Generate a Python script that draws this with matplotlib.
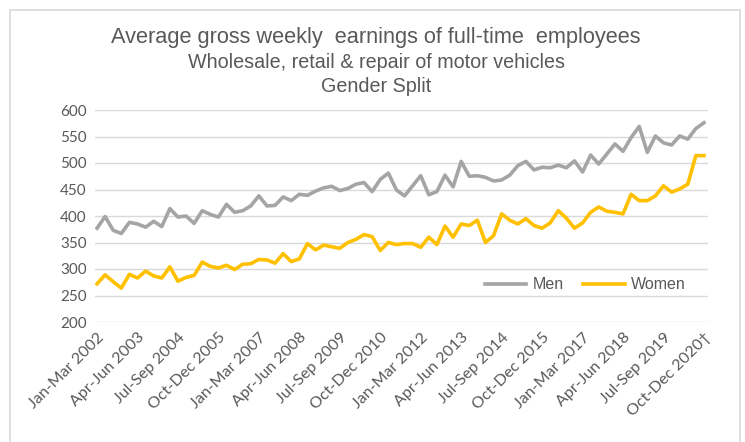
import matplotlib
matplotlib.use('Agg')
from matplotlib import pyplot as plt
from matplotlib.patches import Rectangle

# quarterly labels, Jan-Mar 2002 .. Oct-Dec 2020
quarters = ['Jan-Mar', 'Apr-Jun', 'Jul-Sep', 'Oct-Dec']
years = list(range(2002, 2021))
labels = [f'{q} {y}' for y in years for q in quarters]
labels[-1] = labels[-1] + '\u2020'

men = [377, 399, 373, 367, 388, 385, 379, 390, 380, 414,
       398, 400, 386, 410, 403, 398, 422, 407, 410, 419,
       438, 419, 420, 436, 429, 441, 439, 447, 453, 456,
       448, 452, 460, 463, 446, 469, 481, 449, 438, 457,
       476, 440, 446, 477, 455, 503, 475, 476, 473, 466,
       468, 477, 495, 503, 487, 492, 491, 496, 491, 504,
       483, 515, 498, 517, 536, 522, 548, 569, 520, 551,
       538, 534, 551, 545, 565, 576]
women = [272, 289, 276, 264, 290, 283, 296, 287, 283, 304,
         277, 284, 288, 313, 305, 302, 307, 299, 309, 310,
         318, 317, 311, 329, 314, 319, 348, 336, 345, 342,
         339, 350, 356, 365, 361, 335, 350, 346, 348, 348,
         341, 360, 346, 381, 360, 385, 382, 392, 350, 363,
         404, 392, 385, 395, 382, 377, 387, 410, 396, 377,
         387, 407, 417, 409, 407, 404, 441, 429, 429, 438,
         457, 445, 451, 460, 514, 514]

text_col = '#595959'
grid_col = '#D9D9D9'

fig = plt.figure(figsize=(7.45, 4.42), dpi=100)
fig.patches.append(Rectangle((10/745, -0.02), 730/745, (432/442) + 0.02,
                             transform=fig.transFigure, fill=False,
                             edgecolor=grid_col, linewidth=1.2))

ax = fig.add_axes([95/745, 1 - 322/442, 613/745, 212/442])
x = list(range(len(labels)))
ax.plot(x, men, color='#A5A5A5', linewidth=2.6, label='Men', solid_joinstyle='round')
ax.plot(x, women, color='#FFC000', linewidth=2.6, label='Women', solid_joinstyle='round')

ax.set_ylim(200, 600)
ax.set_yticks(range(200, 601, 50))
ax.set_xlim(-0.25, 75.5)
ax.set_xticks(x[::5])
ax.set_xticklabels(labels[::5], rotation=45, ha='right', rotation_mode='anchor',
                   fontsize=11.5, color=text_col, family=['Lato', 'DejaVu Sans'])
for t in ax.get_yticklabels():
    t.set_color(text_col)
    t.set_fontsize(11)
    t.set_family(['Lato', 'DejaVu Sans'])
ax.tick_params(length=0, pad=6)
ax.grid(axis='y', color=grid_col, linewidth=1)
ax.set_axisbelow(True)
for s in ax.spines.values():
    s.set_visible(False)

leg = ax.legend(loc='center', bbox_to_anchor=(0.80, 0.175), ncol=2, frameon=False,
                handlelength=2.6, columnspacing=1.2, handletextpad=0.4,
                prop={'family': ['Liberation Sans', 'DejaVu Sans'], 'size': 11.5})
for t in leg.get_texts():
    t.set_color(text_col)

fnt = ['Liberation Sans Narrow', 'Liberation Sans', 'DejaVu Sans']
fig.text(376/745, 1 - 38/442, 'Average gross weekly  earnings of full-time  employees',
         ha='center', va='center', fontsize=15.7, color=text_col, family=fnt)
fig.text(376/745, 1 - 62/442, 'Wholesale, retail & repair of motor vehicles',
         ha='center', va='center', fontsize=14.2, color=text_col, family=fnt)
fig.text(376/745, 1 - 86/442, 'Gender Split',
         ha='center', va='center', fontsize=14.2, color=text_col, family=fnt)

plt.savefig('out.png', dpi=100)
